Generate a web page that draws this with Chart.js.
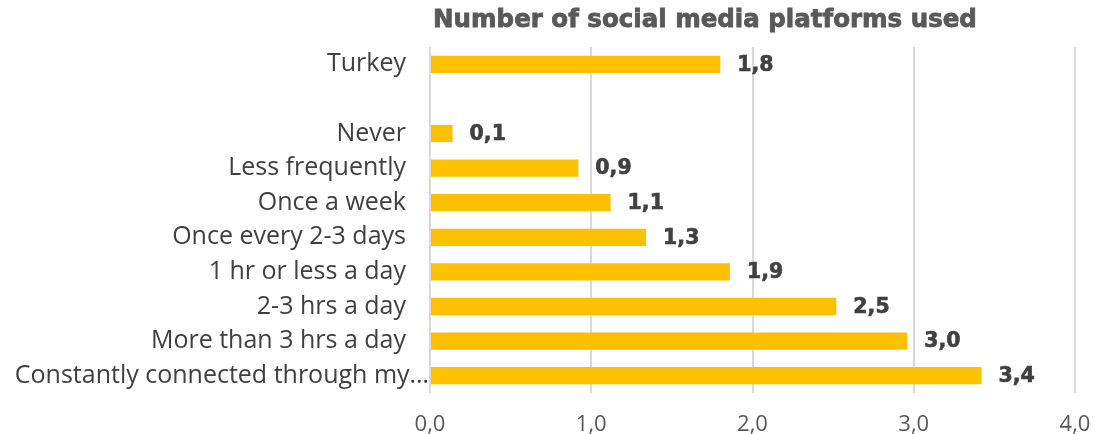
<!DOCTYPE html>
<html>
<head>
<meta charset="utf-8">
<script src="https://cdn.jsdelivr.net/npm/chart.js@4"></script>
<style>
  html, body { margin: 0; padding: 0; background: #ffffff; }
  #wrap { width: 1102px; height: 434px; }
</style>
</head>
<body>
<div id="wrap"><canvas id="c" width="1102" height="434"></canvas></div>
<script>
// Average number of social media platforms used, by frequency of use
const chartTitle = 'Number of social media platforms used';
const categories = [
  'Turkey',
  '',
  'Never',
  'Less frequently',
  'Once a week',
  'Once every 2-3 days',
  '1 hr or less a day',
  '2-3 hrs a day',
  'More than 3 hrs a day',
  'Constantly connected through my…'
];
const platformsUsed = [1.80, null, 0.14, 0.92, 1.12, 1.34, 1.86, 2.52, 2.96, 3.42];
const xTickValues = [0, 1, 2, 3, 4];

const fmt = v => v.toFixed(1).replace('.', ',');

const TEXT_GREY = '#595959';
const LABEL_DARK = '#404040';

// Value labels drawn just past the end of each bar
const valueLabels = {
  id: 'valueLabels',
  afterDatasetsDraw(chart) {
    const { ctx } = chart;
    const meta = chart.getDatasetMeta(0);
    ctx.save();
    ctx.font = 'bold 20.5px "DejaVu Sans"';
    ctx.fillStyle = LABEL_DARK;
    ctx.strokeStyle = LABEL_DARK;
    ctx.lineWidth = 0.6;
    ctx.textAlign = 'left';
    ctx.textBaseline = 'middle';
    meta.data.forEach((bar, i) => {
      const v = platformsUsed[i];
      if (v == null) return;
      ctx.fillText(fmt(v), bar.x + 17, bar.y + 1);
      ctx.strokeText(fmt(v), bar.x + 17, bar.y + 1);
    });
    ctx.restore();
  }
};

// The truncated last category label sits flush against the axis
const longLabelShift = {
  id: 'longLabelShift',
  afterLayout(chart) {
    const items = chart.scales.y.getLabelItems();
    const last = items[items.length - 1];
    if (last) last.options.translation[0] += 23;
  }
};

// Heading centred over the plotted region
const heading = {
  id: 'heading',
  afterDraw(chart) {
    const { ctx } = chart;
    ctx.save();
    ctx.font = 'bold 24.5px "DejaVu Sans"';
    ctx.fillStyle = TEXT_GREY;
    ctx.strokeStyle = TEXT_GREY;
    ctx.lineWidth = 0.8;
    ctx.textAlign = 'center';
    ctx.textBaseline = 'middle';
    ctx.fillText(chartTitle, 705, 21);
    ctx.strokeText(chartTitle, 705, 21);
    ctx.restore();
  }
};

new Chart(document.getElementById('c'), {
  type: 'bar',
  data: {
    labels: categories,
    datasets: [{
      data: platformsUsed,
      backgroundColor: '#FFC000',
      borderWidth: 0,
      barPercentage: 0.5,
      categoryPercentage: 1.0
    }]
  },
  options: {
    indexAxis: 'y',
    responsive: false,
    animation: false,
    devicePixelRatio: 1,
    layout: { padding: { top: 47, right: 27, left: 0, bottom: 0 } },
    plugins: {
      legend: { display: false },
      title: { display: false },
      tooltip: { enabled: false }
    },
    scales: {
      x: {
        min: 0,
        max: 4,
        afterBuildTicks: s => { s.ticks = xTickValues.map(v => ({ value: v })); },
        afterFit: s => { s.height = 41; s.paddingLeft = 0; s.paddingRight = 0; },
        grid: { color: '#d9d9d9', lineWidth: 2, drawTicks: false },
        border: { display: false },
        ticks: {
          color: TEXT_GREY,
          font: { family: 'Open Sans', size: 22 },
          padding: 19,
          callback: v => fmt(v)
        }
      },
      y: {
        afterFit: s => { s.width = 430; },
        grid: { display: false, drawTicks: false },
        border: { display: false },
        ticks: {
          color: LABEL_DARK,
          font: { family: 'Open Sans', size: 25 },
          padding: 24,
          autoSkip: false
        }
      }
    }
  },
  plugins: [longLabelShift, valueLabels, heading]
});
</script>
</body>
</html>
